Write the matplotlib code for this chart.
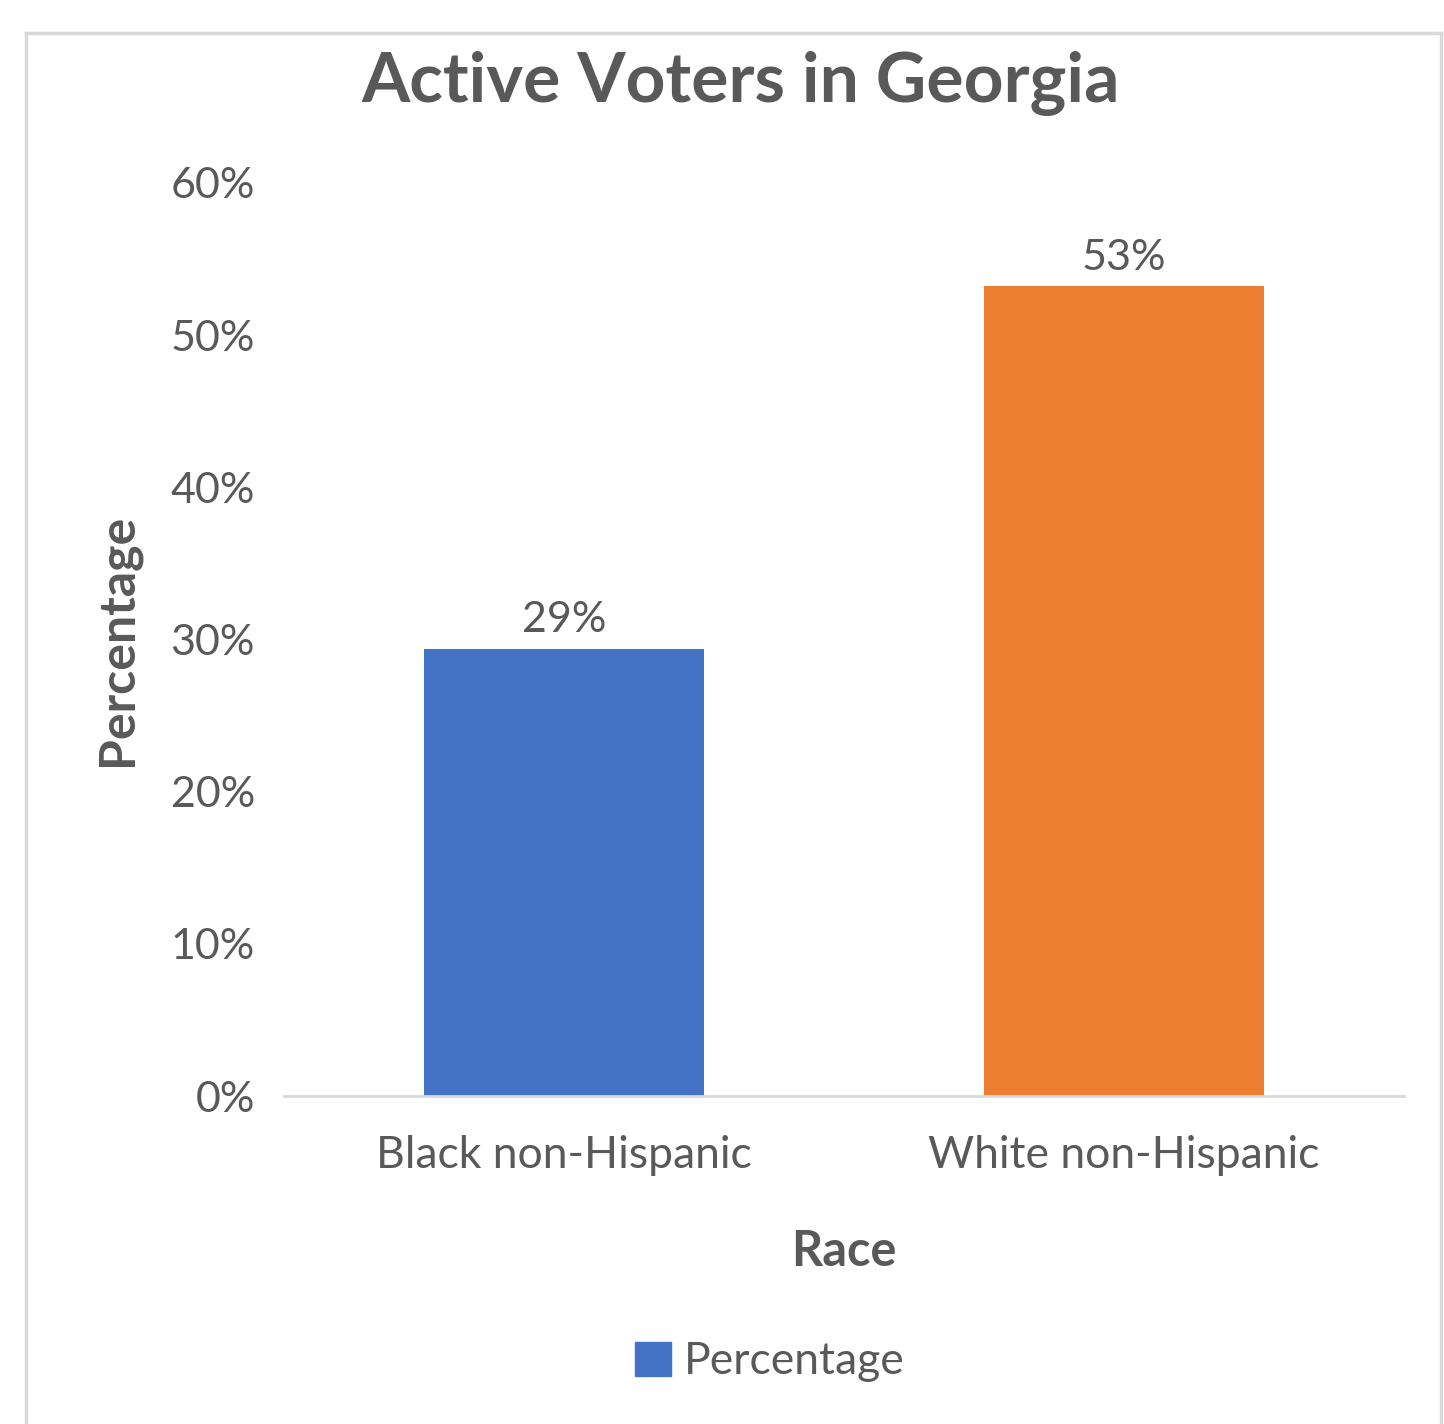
import matplotlib
matplotlib.use("Agg")
import matplotlib.pyplot as plt
from matplotlib.patches import Patch
from matplotlib.lines import Line2D
from matplotlib.ticker import PercentFormatter

# data
categories = ["Black non-Hispanic", "White non-Hispanic"]
values = [0.294, 0.532]
value_labels = ["29%", "53%"]
bar_colors = ["#4472c4", "#ed7d31"]
yticks = [0.0, 0.1, 0.2, 0.3, 0.4, 0.5, 0.6]

plt.rcParams["font.family"] = ["Lato", "DejaVu Sans"]
TXT = "#595959"

fig = plt.figure(figsize=(14.44, 14.24), dpi=100)
fig.patch.set_facecolor("white")

# chart-area border (top / left / right)
W, H = 1444, 1424
for xs, ys in [([26, 1441], [33, 33]), ([26, 26], [33, 1424]), ([1441, 1441], [33, 1424])]:
    fig.add_artist(Line2D([x / W for x in xs], [1 - y / H for y in ys],
                          color="#d9d9d9", linewidth=2.5, transform=fig.transFigure))

ax = fig.add_axes([284 / W, 1 - 1096 / H, 1120 / W, (1096 - 183) / H])
x = range(len(categories))
bars = ax.bar(x, values, width=0.5, color=bar_colors)

for b, lab in zip(bars, value_labels):
    ax.annotate(lab, (b.get_x() + b.get_width() / 2, b.get_height()),
                xytext=(0, 7), textcoords="offset points",
                ha="center", va="bottom", fontsize=31, color=TXT)

ax.set_xlim(-0.5, 1.5)
ax.set_ylim(0, 0.6)
ax.set_yticks(yticks)
ax.yaxis.set_major_formatter(PercentFormatter(1.0, decimals=0))
ax.set_xticks(list(x))
ax.set_xticklabels(categories)
ax.tick_params(axis="both", length=0, labelcolor=TXT)
ax.tick_params(axis="y", pad=21, labelsize=31)
ax.tick_params(axis="x", pad=28, labelsize=32)

for s in ["top", "right", "left"]:
    ax.spines[s].set_visible(False)
ax.spines["bottom"].set_color("#d9d9d9")
ax.spines["bottom"].set_linewidth(2)

ax.set_xlabel("Race", fontsize=35, fontweight="bold", color=TXT, labelpad=38)
ax.set_ylabel("Percentage", fontsize=36, fontweight="bold", color=TXT, labelpad=22)

fig.text(741 / W, 1 - 83 / H, "Active Voters in Georgia", ha="center", va="center",
         fontsize=50, fontweight="bold", color=TXT)

fig.legend(handles=[Patch(color=bar_colors[0], label="Percentage")],
           loc="center", bbox_to_anchor=(770 / W, 1 - 1362 / H), frameon=False,
           fontsize=32, labelcolor=TXT, handlelength=0.8, handleheight=0.8,
           handletextpad=0.3)

fig.savefig("out.png", dpi=100, facecolor="white")
